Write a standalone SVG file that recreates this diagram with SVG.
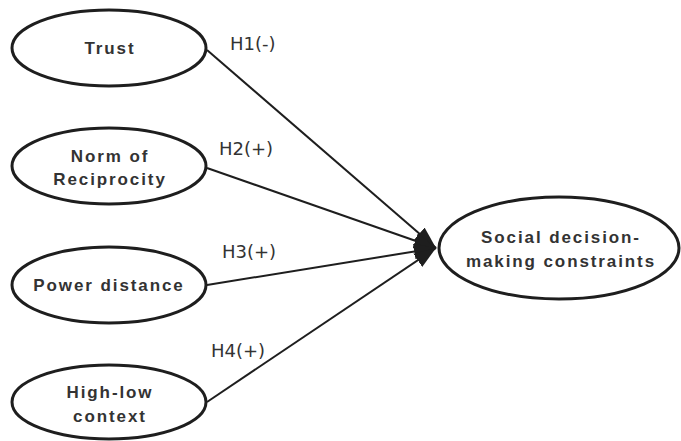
<svg xmlns="http://www.w3.org/2000/svg" width="681" height="441" viewBox="0 0 681 441">
<style>
.node ellipse{fill:#fff;stroke:#1e1e1e;stroke-width:3}
.node text{font-family:"Liberation Sans",Arial,sans-serif;font-weight:bold;font-size:17px;fill:#333;text-anchor:middle;letter-spacing:1.9px}
.edge{stroke:#1e1e1e;stroke-width:2;fill:none;marker-end:url(#ah)}
.lbl{font-family:"DejaVu Sans",Verdana,sans-serif;font-size:18px;fill:#333}
</style>
<defs>
<marker id="ah" viewBox="0 0 22 16" refX="22" refY="8" markerWidth="22" markerHeight="16" markerUnits="userSpaceOnUse" orient="auto">
<path d="M0,0 L22,8 L0,16 z" fill="#1e1e1e"/>
</marker>
</defs>
<rect width="681" height="441" fill="#fff"/>
<g id="connectors">
<line class="edge" x1="207" y1="50" x2="436" y2="248"/>
<line class="edge" x1="207" y1="168" x2="436" y2="248"/>
<line class="edge" x1="207" y1="285" x2="436" y2="248"/>
<line class="edge" x1="207" y1="402" x2="436" y2="248"/>
<text class="lbl" x="230" y="50">H1(-)</text>
<text class="lbl" x="219" y="155">H2(+)</text>
<text class="lbl" x="222" y="258">H3(+)</text>
<text class="lbl" x="211" y="357">H4(+)</text>
</g>
<g id="trust" class="node">
<ellipse cx="109" cy="48" rx="97" ry="38"/>
<text x="110" y="54">Trust</text>
</g>
<g id="norm" class="node">
<ellipse cx="109" cy="166" rx="97" ry="38"/>
<text x="110" y="162">Norm of</text>
<text x="110" y="185">Reciprocity</text>
</g>
<g id="power" class="node">
<ellipse cx="109" cy="285" rx="97" ry="38"/>
<text x="109" y="291">Power distance</text>
</g>
<g id="highlow" class="node">
<ellipse cx="109" cy="402" rx="97" ry="37"/>
<text x="110" y="398">High-low</text>
<text x="110" y="422">context</text>
</g>
<g id="social" class="node">
<ellipse cx="559" cy="248" rx="120" ry="51"/>
<text x="561" y="243">Social decision-</text>
<text x="561" y="267">making constraints</text>
</g>
</svg>
